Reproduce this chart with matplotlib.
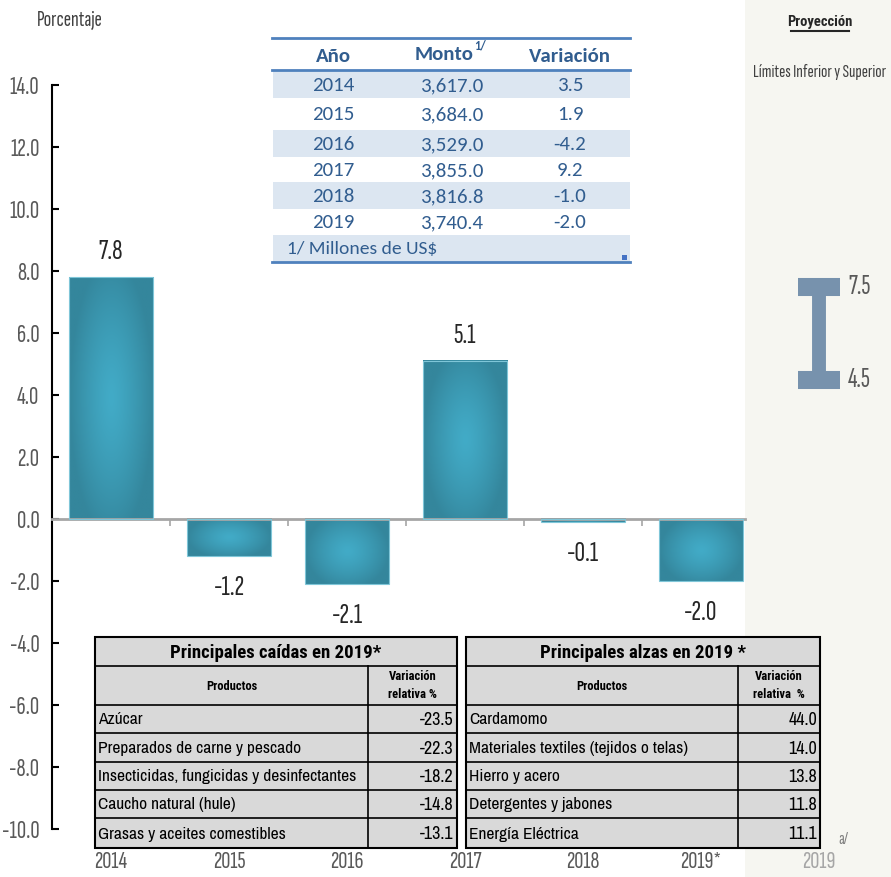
import numpy as np
import matplotlib
matplotlib.use('Agg')
import matplotlib.pyplot as plt
from matplotlib import font_manager
from matplotlib.patches import Rectangle
from matplotlib.ticker import FormatStrFormatter, FixedLocator

# datos del grafico
anios = ['2014', '2015', '2016', '2017', '2018', '2019*', '2019']
variacion = [7.8, -1.2, -2.1, 5.1, -0.1, -2.0]
proy_inf = 4.5
proy_sup = 7.5

# tabla superior (monto y variacion)
tabla_anios = ['2014', '2015', '2016', '2017', '2018', '2019']
tabla_monto = ['3,617.0', '3,684.0', '3,529.0', '3,855.0', '3,816.8', '3,740.4']
tabla_var = ['3.5', '1.9', '-4.2', '9.2', '-1.0', '-2.0']

# principales caidas / alzas
caidas_prod = ['Azúcar', 'Preparados de carne y pescado',
               'Insecticidas, fungicidas y desinfectantes',
               'Caucho natural (hule)', 'Grasas y aceites comestibles']
caidas_val = [-23.5, -22.3, -18.2, -14.8, -13.1]
alzas_prod = ['Cardamomo', 'Materiales textiles (tejidos o telas)',
              'Hierro y acero', 'Detergentes y jabones', 'Energía Eléctrica']
alzas_val = [44.0, 14.0, 13.8, 11.8, 11.1]

fuentes = font_manager.fontManager.ttflist
nombres = {f.name for f in fuentes}
con_negrita = {f.name for f in fuentes if f.weight in (700, 'bold')}


def fuente(*opciones, negrita=False):
    for o in opciones:
        if o in nombres and (not negrita or o in con_negrita):
            return o
    return 'DejaVu Sans'


COND = fuente('Sofia Sans Extra Condensed', 'Fira Sans Extra Condensed', 'Roboto Condensed')
COND_B = fuente('Roboto Condensed', 'Fira Sans Extra Condensed', 'Fira Sans Condensed',
                'PT Sans Narrow', 'Barlow Condensed', negrita=True)
NARROW = fuente('Archivo Narrow', 'PT Sans Narrow', 'Roboto Condensed')
CALIB = fuente('Carlito', 'Lato')
plt.rcParams['font.family'] = [COND, 'DejaVu Sans']

W, H = 891, 877
fig = plt.figure(figsize=(W / 100, H / 100), dpi=100)
fig.patch.set_facecolor('white')

# zona de proyeccion
fig.patches.append(Rectangle((745 / W, 0), (W - 745) / W, 1, transform=fig.transFigure,
                             facecolor='#f6f6f1', edgecolor='none', zorder=-1))

ax = fig.add_axes([52 / W, 1 - 829 / H, 826 / W, 744 / H])
ax.set_facecolor('none')

x = np.arange(len(variacion))
bars = ax.bar(x, variacion, width=0.72, color='none', edgecolor='#7fc6d8', linewidth=0.8, zorder=3)

# relleno con degradado radial
c_claro = np.array([66, 171, 199]) / 255
c_oscuro = np.array([52, 134, 156]) / 255
u = np.linspace(-1, 1, 80)
xx, yy = np.meshgrid(u, u)
for b in bars:
    x0, w = b.get_x(), b.get_width()
    y0, h = b.get_y(), b.get_height()
    r = np.clip(np.sqrt(xx ** 2 + (yy * 0.85) ** 2), 0, 1) ** 1.3
    img = c_claro[None, None, :] * (1 - r[..., None]) + c_oscuro[None, None, :] * r[..., None]
    ax.imshow(img, extent=(x0, x0 + w, min(y0, y0 + h), max(y0, y0 + h)),
              aspect='auto', interpolation='bilinear', zorder=2)

for b, v in zip(bars, variacion):
    dy = 18 if v >= 0 else -23
    ax.annotate(f'{v:.1f}', (b.get_x() + b.get_width() / 2, v), xytext=(0, dy),
                textcoords='offset points', ha='center', va='center', fontsize=21, color='#262626')

# proyeccion (limites)
medio = (proy_inf + proy_sup) / 2
ax.errorbar([6], [medio], yerr=[[medio - proy_inf], [proy_sup - medio]], fmt='none',
            ecolor='#7792ad', elinewidth=10, capsize=15, capthick=13, zorder=3)
for v in (proy_inf, proy_sup):
    ax.annotate(f'{v:.1f}', (6, v), xytext=(21, 0), textcoords='offset points',
                ha='left', va='center', fontsize=20, color='#595959')

ax.set_xlim(-0.5, 6.5)
ax.set_ylim(-10, 14)
ax.yaxis.set_major_locator(FixedLocator(np.arange(-10, 14.1, 2)))
ax.yaxis.set_major_formatter(FormatStrFormatter('%.1f'))
ax.tick_params(axis='y', direction='in', length=5, width=1.5, color='black',
               labelsize=18.5, labelcolor='#595959', pad=9)

ax.spines['top'].set_visible(False)
ax.spines['right'].set_visible(False)
ax.spines['left'].set_linewidth(1.5)
ax.spines['bottom'].set_position(('data', 0))
ax.spines['bottom'].set_color('#a6a6a6')
ax.spines['bottom'].set_linewidth(2)
ax.spines['bottom'].set_bounds(-0.5, 5.37)
ax.set_xticks([])
ax.xaxis.set_minor_locator(FixedLocator(np.arange(0.5, 5.0, 1)))
ax.tick_params(axis='x', which='minor', direction='out', length=5, width=1.2, color='#a6a6a6')

col_lab = ['#595959'] * 6 + ['#a6a6a6']
for i, a in enumerate(anios):
    ax.annotate(a, (i, -10), xytext=(0, -24), textcoords='offset points', ha='center',
                va='center', fontsize=18, color=col_lab[i], annotation_clip=False)

# capa en pixeles para textos y tablas
ov = fig.add_axes([0, 0, 1, 1], zorder=5)
ov.set_xlim(0, W)
ov.set_ylim(H, 0)
ov.axis('off')
ov.patch.set_alpha(0)

ov.text(70, 20, 'Porcentaje', ha='center', va='center', fontsize=16, color='#404040')
ov.text(820, 22, 'Proyección', ha='center', va='center', fontsize=10.5, fontweight='bold',
        color='#262626', family=COND_B)
ov.plot([791, 849], [31, 31], color='#262626', lw=1.5)
ov.text(820, 72, 'Límites Inferior y Superior', ha='center', va='center', fontsize=13.5, color='#404040')
ov.text(843, 840, 'a/', ha='center', va='center', fontsize=13, color='#808080')

# tabla superior
azul = '#315d8f'
linea = '#4f81bd'
filas = [71, 98, 130, 157, 182, 209, 235, 262]
for k in range(7):
    if k % 2 == 0:
        ov.add_patch(Rectangle((273, filas[k]), 357, filas[k + 1] - filas[k],
                               facecolor='#dce6f1', edgecolor='none'))
ov.plot([272, 630], [38, 38], color=linea, lw=2)
ov.plot([272, 630], [70, 70], color=linea, lw=2)
ov.plot([272, 630], [262, 262], color=linea, lw=2)
ov.add_patch(Rectangle((622, 255), 5, 5, facecolor='#4472c4', edgecolor='none'))
ov.text(333, 57, 'Año', ha='center', va='center', fontsize=15, fontweight='bold', color=azul, family=CALIB)
ov.text(473, 55, 'Monto', ha='right', va='center', fontsize=15, fontweight='bold', color=azul, family=CALIB)
ov.text(474, 46, '1/', ha='left', va='center', fontsize=9, fontweight='bold', color=azul, family=CALIB)
ov.text(570, 57, 'Variación', ha='center', va='center', fontsize=15, fontweight='bold', color=azul, family=CALIB)
for k in range(len(tabla_anios)):
    yc = (filas[k] + filas[k + 1]) / 2 + 1
    ov.text(333, yc, tabla_anios[k], ha='center', va='center', fontsize=15, color=azul, family=CALIB)
    ov.text(452, yc, tabla_monto[k], ha='center', va='center', fontsize=15, color=azul, family=CALIB)
    ov.text(570, yc, tabla_var[k], ha='center', va='center', fontsize=15, color=azul, family=CALIB)
ov.text(287, 249, r'1/ Millones de US\$', ha='left', va='center', fontsize=14, color=azul, family=CALIB)


def tabla_productos(x0, x1, xdiv, titulo, cab2, productos, valores):
    ys = [637, 666, 705, 733, 762, 790, 818, 848]
    ov.add_patch(Rectangle((x0, ys[0]), x1 - x0, ys[-1] - ys[0], facecolor='#d9d9d9',
                           edgecolor='black', lw=1.5))
    for yy_ in ys[1:-1]:
        ov.plot([x0, x1], [yy_, yy_], color='black', lw=1.2)
    ov.plot([xdiv, xdiv], [ys[1], ys[-1]], color='black', lw=1.2)
    ov.text((x0 + x1) / 2, (ys[0] + ys[1]) / 2 + 1, titulo, ha='center', va='center',
            fontsize=13.5, fontweight='bold', color='black', family=COND_B)
    ov.text((x0 + xdiv) / 2, 687, 'Productos', ha='center', va='center', fontsize=9,
            fontweight='bold', color='black', family=COND_B)
    ov.text((xdiv + x1) / 2, 677, 'Variación', ha='center', va='center', fontsize=9,
            fontweight='bold', color='black', family=COND_B)
    ov.text((xdiv + x1) / 2, 695, cab2, ha='center', va='center', fontsize=9,
            fontweight='bold', color='black', family=COND_B)
    for k, (p, v) in enumerate(zip(productos, valores)):
        yc = (ys[k + 2] + ys[k + 3]) / 2 + 1
        ov.text(x0 + 3, yc, p, ha='left', va='center', fontsize=12.5, color='black', family=NARROW)
        ov.text(x1 - 3, yc, f'{v:.1f}', ha='right', va='center', fontsize=13, color='black', family=NARROW)


tabla_productos(95, 457, 368, 'Principales caídas en 2019*', 'relativa %', caidas_prod, caidas_val)
tabla_productos(466, 820, 738, 'Principales alzas en 2019 *', 'relativa  %', alzas_prod, alzas_val)

fig.savefig('out.png', dpi=100)
